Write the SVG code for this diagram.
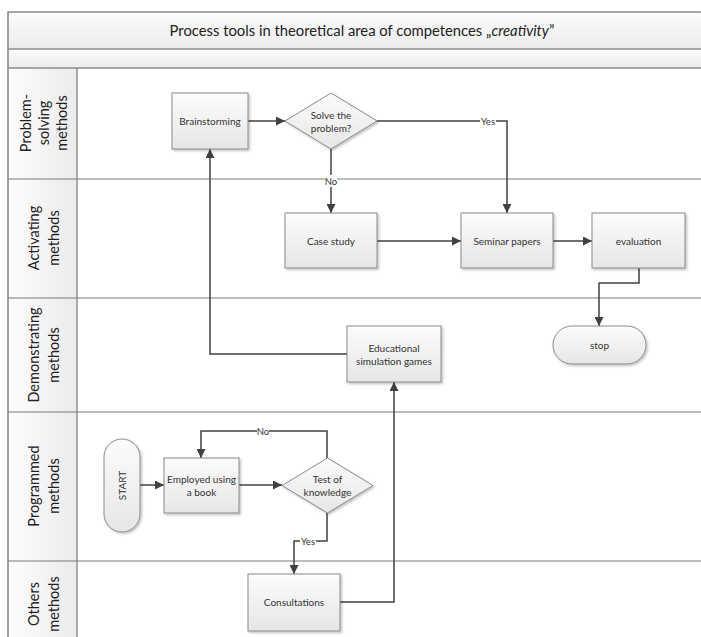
<svg xmlns="http://www.w3.org/2000/svg" width="701" height="637" viewBox="0 0 701 637">
  <defs>
    <linearGradient id="bandFill" x1="0" y1="0" x2="0" y2="1">
      <stop offset="0" stop-color="#fbfbfb"/>
      <stop offset="1" stop-color="#ececec"/>
    </linearGradient>
    <linearGradient id="laneHead" x1="0" y1="0" x2="1" y2="0">
      <stop offset="0" stop-color="#fdfdfd"/>
      <stop offset="1" stop-color="#ebebeb"/>
    </linearGradient>
    <linearGradient id="nodeFill" x1="0" y1="0" x2="0" y2="1">
      <stop offset="0" stop-color="#fcfcfc"/>
      <stop offset="1" stop-color="#e6e6e6"/>
    </linearGradient>
    <filter id="shadow" x="-10%" y="-10%" width="130%" height="130%">
      <feDropShadow dx="1.5" dy="1.5" stdDeviation="1" flood-color="#000" flood-opacity="0.25"/>
    </filter>
    <marker id="arrow" viewBox="0 0 10 10" refX="10" refY="5" markerWidth="9" markerHeight="9" markerUnits="userSpaceOnUse" orient="auto">
      <path d="M0,0 L10,5 L0,10 Z" fill="#404040"/>
    </marker>
    <style>
      .frame { fill: none; stroke: #8c8c8c; stroke-width: 1.6; }
      .lane { stroke: #7a7a7a; stroke-width: 1.2; }
      .lane-label { font-family: Lato, "Liberation Sans", sans-serif; font-size: 14.5px; fill: #222; text-anchor: middle; dominant-baseline: central; }
      .title { font-family: Lato, "Liberation Sans", sans-serif; font-size: 14.8px; fill: #222; text-anchor: middle; dominant-baseline: central; }
      .node { fill: url(#nodeFill); stroke: #8a8a8a; stroke-width: 1; filter: url(#shadow); }
      .node-text { font-family: Lato, "Liberation Sans", sans-serif; font-size: 10px; fill: #333; text-anchor: middle; dominant-baseline: central; }
      .conn { fill: none; stroke: #404040; stroke-width: 1.5; }
      .conn-arrow { marker-end: url(#arrow); }
      .conn-label { font-family: Lato, "Liberation Sans", sans-serif; font-size: 9.5px; fill: #333; text-anchor: middle; dominant-baseline: central; }
      .label-bg { fill: #ffffff; }
    </style>
  </defs>

  <rect width="701" height="637" fill="#ffffff"/>

  <!-- pool header and lanes -->
  <g id="pool">
    <rect x="8" y="12" width="700" height="37" fill="url(#bandFill)"/>
    <rect x="8" y="49" width="700" height="19" fill="url(#bandFill)"/>
    <rect x="8" y="68" width="69" height="575" fill="url(#laneHead)"/>
    <path class="frame" d="M708,12 H8 V640"/>
    <path class="frame" d="M8,49 H708 M8,68 H708"/>
    <path class="lane" d="M77,68 V640 M8,179 H708 M8,298 H708 M8,412 H708 M8,561 H708"/>
    <text class="title" x="362" y="30">Process tools in theoretical area of competences „<tspan font-style="italic">creativity</tspan>”</text>
  </g>

  <g id="lane-labels">
    <text class="lane-label" transform="translate(43,123) rotate(-90)"><tspan x="0" y="-18">Problem-</tspan><tspan x="0" y="0">solving</tspan><tspan x="0" y="18">methods</tspan></text>
    <text class="lane-label" transform="translate(43,238) rotate(-90)"><tspan x="0" y="-10">Activating</tspan><tspan x="0" y="10">methods</tspan></text>
    <text class="lane-label" transform="translate(43,355) rotate(-90)"><tspan x="0" y="-10">Demonstrating</tspan><tspan x="0" y="10">methods</tspan></text>
    <text class="lane-label" transform="translate(43,486) rotate(-90)"><tspan x="0" y="-10">Programmed</tspan><tspan x="0" y="10">methods</tspan></text>
    <text class="lane-label" transform="translate(43,604) rotate(-90)"><tspan x="0" y="-10">Others</tspan><tspan x="0" y="10">methods</tspan></text>
  </g>

  <!-- connectors -->
  <g id="connectors">
    <path class="conn conn-arrow" d="M248,121 H285"/>
    <path class="conn conn-arrow" d="M331,149 V213"/>
    <path class="conn conn-arrow" d="M377,121 H507 V213"/>
    <path class="conn conn-arrow" d="M377,241 H461"/>
    <path class="conn conn-arrow" d="M553,241 H592"/>
    <path class="conn conn-arrow" d="M639,268 V283 H599 V326"/>
    <path class="conn conn-arrow" d="M347,354 H210 V149"/>
    <path class="conn conn-arrow" d="M140,485 H164"/>
    <path class="conn conn-arrow" d="M239,485 H282"/>
    <path class="conn conn-arrow" d="M327,458 V431 H201 V458"/>
    <path class="conn conn-arrow" d="M327,513 V541 H294 V574"/>
    <path class="conn conn-arrow" d="M340,602 H394 V382"/>

    <rect class="label-bg" x="325" y="175" width="12" height="12"/>
    <text class="conn-label" x="331" y="181">No</text>
    <rect class="label-bg" x="480" y="115" width="16" height="12"/>
    <text class="conn-label" x="488" y="121">Yes</text>
    <rect class="label-bg" x="257" y="425" width="12" height="12"/>
    <text class="conn-label" x="263" y="431">No</text>
    <rect class="label-bg" x="300" y="535" width="16" height="12"/>
    <text class="conn-label" x="308" y="541">Yes</text>
  </g>

  <g id="brainstorming">
    <rect class="node" x="172" y="93" width="76" height="56"/>
    <text class="node-text" x="210" y="121">Brainstorming</text>
  </g>

  <g id="solve-problem">
    <polygon class="node" points="331,93 377,121 331,149 285,121"/>
    <text class="node-text" x="331" y="114.5">Solve the</text>
    <text class="node-text" x="331" y="127.5">problem?</text>
  </g>

  <g id="case-study">
    <rect class="node" x="285" y="213" width="92" height="55"/>
    <text class="node-text" x="331" y="241">Case study</text>
  </g>

  <g id="seminar-papers">
    <rect class="node" x="461" y="213" width="92" height="55"/>
    <text class="node-text" x="507" y="241">Seminar papers</text>
  </g>

  <g id="evaluation">
    <rect class="node" x="592" y="213" width="93" height="55"/>
    <text class="node-text" x="638.5" y="241">evaluation</text>
  </g>

  <g id="stop">
    <rect class="node" x="553" y="326" width="93" height="38" rx="19" ry="19"/>
    <text class="node-text" x="599.5" y="345">stop</text>
  </g>

  <g id="educational-games">
    <rect class="node" x="347" y="326" width="94" height="56"/>
    <text class="node-text" x="394" y="348">Educational</text>
    <text class="node-text" x="394" y="361">simulation games</text>
  </g>

  <g id="start">
    <rect class="node" x="104" y="439" width="36" height="93" rx="18" ry="18"/>
    <text class="node-text" transform="translate(122,485.5) rotate(-90)" x="0" y="0" font-size="9.5">START</text>
  </g>

  <g id="employed-book">
    <rect class="node" x="164" y="458" width="75" height="55"/>
    <text class="node-text" x="201.5" y="479">Employed using</text>
    <text class="node-text" x="201.5" y="492">a book</text>
  </g>

  <g id="test-knowledge">
    <polygon class="node" points="327.5,458 373,485.5 327.5,513 282,485.5"/>
    <text class="node-text" x="327.5" y="479">Test of</text>
    <text class="node-text" x="327.5" y="491.5">knowledge</text>
  </g>

  <g id="consultations">
    <rect class="node" x="248" y="574" width="92" height="57"/>
    <text class="node-text" x="294" y="602">Consultations</text>
  </g>
</svg>
